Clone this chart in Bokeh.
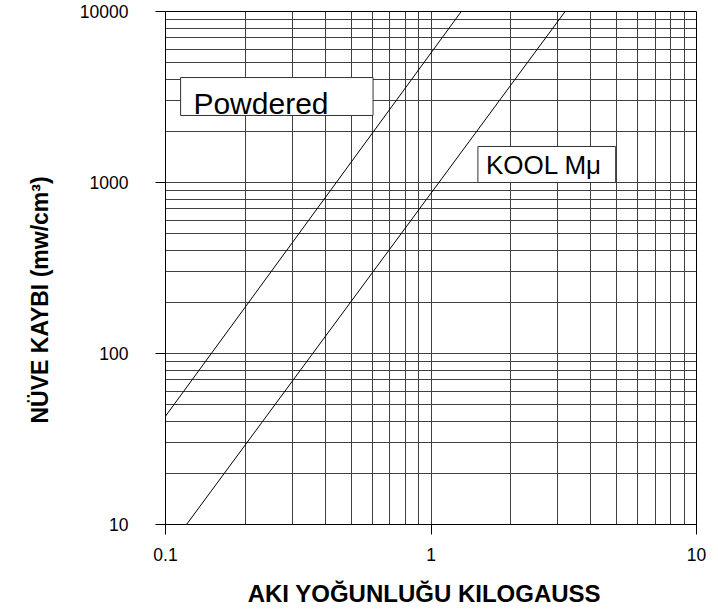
from bokeh.plotting import figure
from bokeh.models import FixedTicker, NumeralTickFormatter, Label, BoxAnnotation, Title
from bokeh.embed import file_html
from bokeh.resources import INLINE

# ---- data ----
x_major = [0.1, 1, 10]
x_minor = [0.2, 0.3, 0.4, 0.5, 0.6, 0.7, 0.8, 0.9,
           2, 3, 4, 5, 6, 7, 8, 9]
y_major = [10, 100, 1000, 10000]
y_minor = [20, 30, 40, 50, 60, 70, 80, 90,
           200, 300, 400, 500, 600, 700, 800, 900,
           2000, 3000, 4000, 5000, 6000, 7000, 8000, 9000]

powdered_x = [0.1, 1.3]
powdered_y = [43, 10000]
kool_x = [0.12, 3.2]
kool_y = [10, 10000]

series_names = ["Powdered", "KOOL M\u03bc"]
x_title = "AKI YO\u011eUNLU\u011eU KILOGAUSS"
y_title = "N\u00dcVE KAYBI (mw/cm\u00b3)"

FONT = "Liberation Sans"
GRID = "#404040"

p = figure(width=718, height=609,
           x_axis_type="log", y_axis_type="log",
           x_range=(0.1, 10), y_range=(10, 10000),
           output_backend="svg", toolbar_location=None,
           min_border_left=164, min_border_right=22,
           min_border_top=11, min_border_bottom=85)

p.background_fill_color = "white"
p.border_fill_color = "white"
p.outline_line_color = "black"
p.outline_line_width = 1

xt = FixedTicker(ticks=x_major, minor_ticks=x_minor)
yt = FixedTicker(ticks=y_major, minor_ticks=y_minor)
p.xaxis.ticker = xt
p.yaxis.ticker = yt
p.xgrid.ticker = xt
p.ygrid.ticker = yt
p.xaxis.formatter = NumeralTickFormatter(format="0.[0]")
p.yaxis.formatter = NumeralTickFormatter(format="0")

for g in (p.xgrid, p.ygrid):
    g.grid_line_color = GRID
    g.grid_line_width = 1
    g.minor_grid_line_color = GRID
    g.minor_grid_line_width = 1

for ax in (p.xaxis, p.yaxis):
    ax.axis_line_color = "black"
    ax.major_tick_line_color = "black"
    ax.major_tick_out = 10
    ax.major_tick_in = 0
    ax.minor_tick_out = 0
    ax.minor_tick_in = 0
    ax.major_label_text_font = FONT
    ax.major_label_text_font_size = "17.5px"
    ax.major_label_text_color = "black"
p.xaxis.major_label_standoff = 13
p.yaxis.major_label_standoff = 27

# x-axis title (two trailing no-break spaces nudge it slightly left, as in the original)
p.xaxis.axis_label = x_title + "\u00a0\u00a0"
p.xaxis.axis_label_standoff = 16
p.xaxis.axis_label_text_font = FONT
p.xaxis.axis_label_text_font_size = "24px"
p.xaxis.axis_label_text_font_style = "bold"
p.xaxis.axis_label_text_color = "black"

p.line(powdered_x, powdered_y, line_color="black", line_width=1)
p.line(kool_x, kool_y, line_color="black", line_width=1)

# label boxes
p.add_layout(BoxAnnotation(left=0.114, right=0.605, bottom=2466, top=4110,
                           fill_color="white", fill_alpha=1,
                           line_color="#333333", line_width=1, line_alpha=1))
p.add_layout(Label(x=0.1274, y=2913, text=series_names[0],
                   text_font=FONT, text_font_size="30px",
                   text_align="left", text_baseline="middle",
                   text_color="black"))
p.add_layout(BoxAnnotation(left=1.502, right=4.96, bottom=1000, top=1624,
                           fill_color="white", fill_alpha=1,
                           line_color="#333333", line_width=1, line_alpha=1))
p.add_layout(Label(x=1.61, y=1274, text=series_names[1],
                   text_font=FONT, text_font_size="26px",
                   text_align="left", text_baseline="middle",
                   text_color="black"))

# y-axis title
p.add_layout(Title(text=y_title, align="left", offset=101, standoff=48,
                   text_font=FONT, text_font_size="23px", text_font_style="bold",
                   text_color="black"), "left")

open("out.html", "w").write(file_html(p, INLINE))
